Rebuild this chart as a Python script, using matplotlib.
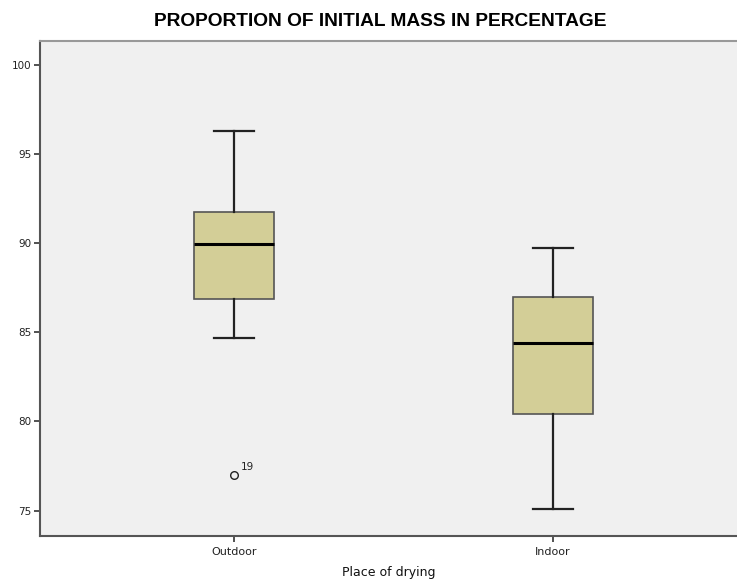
import matplotlib.pyplot as plt

plt.rcParams["font.family"] = ["DejaVu Sans"]

# data
categories = ["Outdoor", "Indoor"]
whisker_low = [84.68, 75.06]
q1 = [86.87, 80.42]
median = [89.95, 84.40]
q3 = [91.74, 86.98]
whisker_high = [96.32, 89.73]
outliers = [[77.02], []]
outlier_ids = [["19"], []]
yticks = [75, 80, 85, 90, 95, 100]


def main() -> None:
    fig = plt.figure(figsize=(7.37, 5.81), dpi=100)
    ax = fig.add_axes([40 / 737, 45.5 / 581, 697 / 737, 494.5 / 581])
    ax.set_facecolor("#f0f0f0")

    stats = []
    for i, name in enumerate(categories):
        stats.append(
            {
                "label": name,
                "whislo": whisker_low[i],
                "q1": q1[i],
                "med": median[i],
                "q3": q3[i],
                "whishi": whisker_high[i],
                "fliers": outliers[i],
            }
        )

    positions = list(range(1, len(categories) + 1))
    ax.bxp(
        stats,
        positions=positions,
        widths=0.25,
        patch_artist=True,
        showfliers=True,
        boxprops=dict(facecolor="#d3ce97", edgecolor="#555555", linewidth=1.2),
        medianprops=dict(color="black", linewidth=2.2),
        whiskerprops=dict(color="#222222", linewidth=1.6),
        capprops=dict(color="#222222", linewidth=1.6),
        capwidths=0.125,
        flierprops=dict(marker="o", markerfacecolor="none", markeredgecolor="#222222",
                        markersize=5.5, markeredgewidth=1.0),
    )

    for pos, vals, ids in zip(positions, outliers, outlier_ids):
        for v, lab in zip(vals, ids):
            ax.annotate(lab, (pos, v), xytext=(5, 3), textcoords="offset points",
                        fontsize=7.5, color="#222222")

    ax.set_xlim(0.392, 2.577)
    ax.set_ylim(73.6, 101.35)
    ax.set_yticks(yticks)
    ax.set_xticks(positions)
    ax.set_xticklabels(categories)
    ax.tick_params(axis="both", labelsize=7.5, length=4, width=1.2, color="#333333",
                   labelcolor="#222222", pad=2)
    ax.tick_params(axis="x", labelsize=8, pad=4)

    for side in ["left", "bottom"]:
        ax.spines[side].set_color("#555555")
        ax.spines[side].set_linewidth(1.5)
    ax.spines["top"].set_color("#999999")
    ax.spines["top"].set_linewidth(1.5)
    ax.spines["right"].set_visible(False)

    ax.set_xlabel("Place of drying", fontsize=9, color="#111111", va="baseline")
    ax.xaxis.set_label_coords(0.5, -(576 - 535.5) / 494.5)
    fig.text(380 / 737, 1 - 21 / 581, "PROPORTION OF INITIAL MASS IN PERCENTAGE",
             ha="center", va="center", fontsize=13.8, fontweight="bold",
             family=["Liberation Sans", "DejaVu Sans"])

    fig.savefig("out.png", dpi=100)


if __name__ == "__main__":
    main()
